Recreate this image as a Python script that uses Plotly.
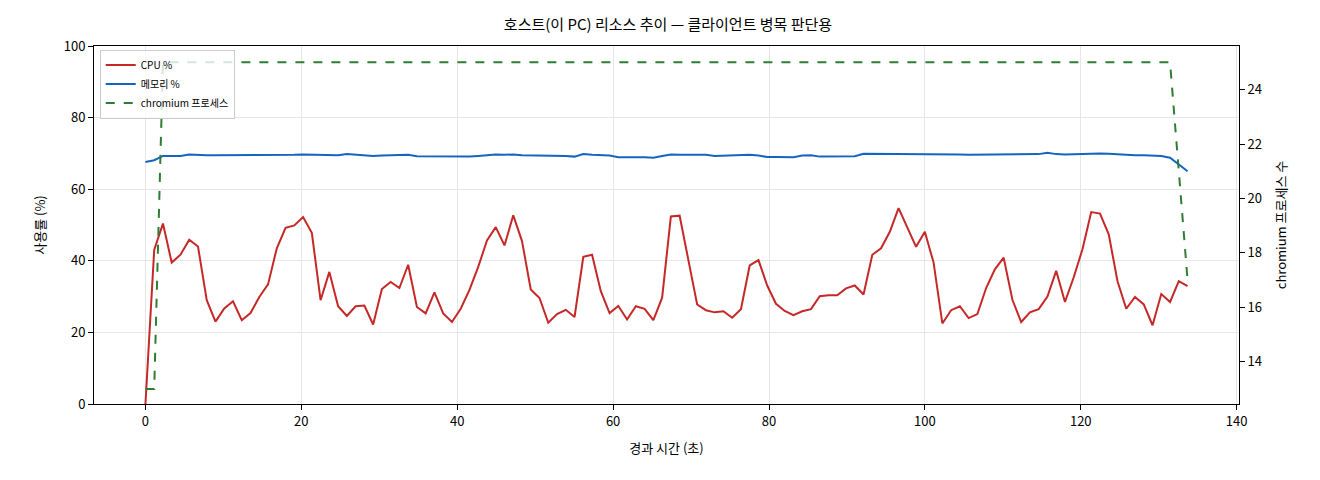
import plotly.graph_objects as go

cpu = [0,43,50.4,39.5,41.7,45.9,44,29,23,26.7,28.7,23.4,25.4,29.9,33.4,43.5,49.2,49.9,52.2,47.8,
       29,36.9,27.3,24.6,27.3,27.5,22.2,32.1,34.1,32.4,38.9,27.1,25.3,31.2,25.3,22.9,26.6,31.9,38.3,45.7,
       49.4,44.3,52.7,45.5,32,29.6,22.7,25.1,26.3,24.3,41.1,41.7,31.5,25.4,27.4,23.6,27.3,26.6,23.4,29.7,
       52.4,52.6,40.2,27.8,26.2,25.6,25.9,24.1,26.5,38.7,40.2,33.1,28,26,24.8,25.9,26.5,30.1,30.4,30.4,
       32.3,33.1,30.6,41.7,43.5,48.1,54.7,49.4,43.9,48.1,39.5,22.5,26.2,27.3,24,25.1,32.4,37.6,40.9,29.1,
       22.9,25.6,26.5,30,37.2,28.5,35.4,43.2,53.6,53.2,47.4,34.3,26.6,29.9,27.8,22,30.7,28.5,34.3,32.9]
mem = [67.6,68.1,69.3,69.4,69.3,69.7,69.5,69.5,69.5,69.5,69.5,69.4,69.4,69.5,69.6,69.6,69.6,69.6,69.7,69.7,
       69.6,69.5,69.5,69.8,69.6,69.3,69.3,69.4,69.4,69.5,69.6,69.2,69.2,69.2,69.2,69.0,69.0,69.1,69.3,69.6,
       69.7,69.6,69.7,69.5,69.5,69.5,69.5,69.4,69.3,69.1,69.8,69.6,69.4,69.4,68.9,68.8,68.9,68.9,68.8,69.3,
       69.7,69.6,69.6,69.6,69.6,69.3,69.4,69.4,69.6,69.6,69.4,69.0,69.0,68.9,68.9,69.4,69.5,69.1,69.1,69.1,
       69.1,69.2,69.9,69.9,69.9,69.9,69.9,69.9,69.9,69.9,69.9,69.8,69.8,69.7,69.6,69.6,69.6,69.7,69.7,69.7,
       69.7,69.7,69.8,70.2,69.8,69.7,69.8,69.9,70.0,70.0,69.9,69.7,69.6,69.5,69.5,69.4,69.3,68.8,66.8,65.0]
proc = [13,13] + [25]*116 + [21,17]
n = len(cpu)
t = [round(i*133.7/(n-1), 3) for i in range(n)]

fig = go.Figure()
fig.add_trace(go.Scatter(x=t, y=cpu, name="CPU %", mode="lines", line=dict(color="#c62828", width=2)))
fig.add_trace(go.Scatter(x=t, y=mem, name="메모리 %", mode="lines", line=dict(color="#1565c0", width=2)))
fig.add_trace(go.Scatter(x=t, y=proc, name="chromium 프로세스", mode="lines", yaxis="y2",
                         line=dict(color="#2e7d32", width=2, dash="dash")))
ax = dict(showline=True, linecolor="black", mirror=False, ticks="outside", ticklen=5, tickcolor="black",
          gridcolor="#e6e6e6", zeroline=False, tickfont=dict(size=13))
fig.update_layout(
    width=1320, height=480, plot_bgcolor="white", paper_bgcolor="white",
    font=dict(family="Noto Sans CJK KR", color="black", size=13),
    title=dict(text="호스트(이 PC) 리소스 추이 — 클라이언트 병목 판단용", x=0.5, y=0.965, xanchor="center",
               yanchor="middle", font=dict(size=15)),
    margin=dict(l=86, r=89, t=38, b=84),
    xaxis=dict(ax, range=[-6.6, 140.3], dtick=20, title=dict(text="경과 시간 (초)", font=dict(size=13)), mirror=True),
    yaxis=dict(ax, range=[0, 100], dtick=20, title=dict(text="사용률 (%)", font=dict(size=13))),
    yaxis2=dict(ax, overlaying="y", side="right", range=[12.45, 25.6], dtick=2, showgrid=False,
                title=dict(text="chromium 프로세스 수", font=dict(size=13))),
    legend=dict(x=0.005, y=0.99, xanchor="left", yanchor="top", bgcolor="rgba(255,255,255,0.8)",
                bordercolor="#cccccc", borderwidth=1, font=dict(size=10)),
)
fig.write_html("out.html")
